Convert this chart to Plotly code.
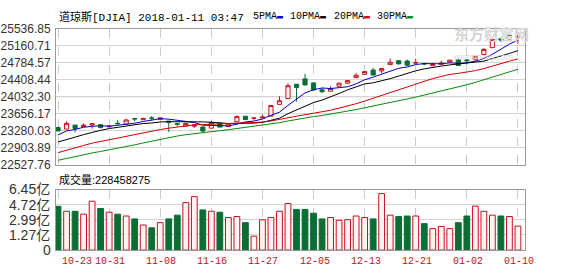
import plotly.graph_objects as go
import pandas as pd

# ---------------- data ----------------
DATES = ["10-23","10-24","10-25","10-26","10-27","10-30","10-31",
         "11-01","11-02","11-03","11-06","11-07","11-08","11-09","11-10",
         "11-13","11-14","11-15","11-16","11-17","11-20","11-21","11-22",
         "11-24","11-27","11-28","11-29","11-30",
         "12-01","12-04","12-05","12-06","12-07","12-08","12-11","12-12",
         "12-13","12-14","12-15","12-18","12-19","12-20","12-21","12-22",
         "12-26","12-27","12-28","12-29",
         "01-02","01-03","01-04","01-05","01-08","01-09","01-10"]

OPEN = [23348.7,23314.0,23403.0,23372.0,23405.0,23410.0,23365.0,
        23442.0,23424.0,23549.0,23522.0,23560.0,23530.0,23491.0,23434.0,
        23380.0,23378.0,23362.0,23334.0,23446.0,23369.0,23476.0,23598.0,
        23554.0,23560.0,23601.0,23860.0,23989.0,
        24305.0,24424.0,24335.0,24182.0,24150.0,24262.0,24330.0,24452.0,
        24525.0,24620.0,24600.0,24739.0,24827.0,24819.0,24773.0,24764.0,
        24715.0,24746.0,24797.0,24849.0,
        24850.0,24850.0,24964.0,25114.0,25309.0,25312.0,25336.0]
HIGH = [23368.0,23485.0,23404.0,23443.0,23449.0,23420.0,23406.0,
        23517.0,23539.0,23557.0,23567.0,23602.0,23570.0,23491.0,23457.0,
        23458.0,23421.0,23362.0,23494.0,23453.0,23445.0,23618.0,23602.0,
        23573.0,23638.0,23847.0,24041.0,24327.0,
        24305.0,24534.0,24349.0,24226.0,24262.0,24330.0,24387.0,24552.0,
        24585.0,24669.0,24651.0,24876.0,24837.0,24850.0,24872.0,24784.0,
        24778.0,24826.0,24839.0,24871.0,
        24864.0,24941.0,25105.0,25299.0,25311.0,25408.0,25370.0]
LOW = [23270.0,23314.0,23242.0,23372.0,23322.0,23329.0,23350.0,
       23412.0,23409.0,23486.0,23522.0,23500.0,23512.0,23250.0,23375.0,
       23380.0,23336.0,23242.0,23334.0,23354.0,23369.0,23476.0,23511.0,
       23519.0,23557.0,23601.0,23860.0,23989.0,
       23921.0,24280.0,24173.0,24114.0,24150.0,24262.0,24313.0,24452.0,
       24510.0,24508.0,24547.0,24739.0,24743.0,24710.0,24761.0,24728.0,
       24715.0,24741.0,24790.0,24719.0,
       24741.0,24825.0,24963.0,25112.0,25235.0,25268.0,25200.0]
CLOSE = [23273.96,23441.76,23329.46,23400.86,23434.19,23348.74,23377.24,
         23435.01,23516.26,23539.19,23548.42,23557.23,23563.36,23461.94,23422.21,
         23439.70,23409.47,23271.28,23458.36,23358.24,23430.33,23590.83,23526.18,
         23557.99,23580.78,23836.71,23940.68,24272.35,
         24231.59,24290.05,24180.64,24140.91,24211.48,24329.16,24386.03,24504.80,
         24585.43,24508.66,24651.74,24792.20,24754.75,24726.65,24782.29,24754.06,
         24746.21,24774.30,24837.51,24719.22,
         24824.01,24922.68,25075.13,25295.87,25283.00,25385.80,25369.13]
# closes of the 29 sessions before 10-23 (needed for the moving averages)
PRIOR_CLOSE = [22118.86,22158.18,22203.48,22268.34,22331.35,22370.80,
               22412.59,22359.23,22349.59,22296.09,22284.32,22340.71,22381.20,
               22405.09,22557.60,22641.67,22661.64,22775.39,22773.67,22761.07,
               22830.68,22872.89,22841.01,22871.72,22956.96,22997.44,23157.60,
               23163.04,23328.63]
VOLUME = [4.54,3.97,3.97,3.64,5.12,4.29,3.86,3.64,3.43,3.10,2.40,2.08,2.67,3.10,
          3.53,4.96,5.64,4.13,3.97,3.86,3.26,3.37,2.67,1.13,3.00,3.26,3.97,4.85,
          4.18,4.18,3.75,3.10,3.26,2.94,3.01,3.43,3.26,3.10,5.99,3.53,3.37,3.43,
          3.43,2.56,1.99,2.24,1.99,2.67,3.43,4.56,3.97,3.53,3.43,3.37,2.28]  # 亿

PRICE_TICKS = [22527.76,22903.89,23280.03,23656.17,24032.30,24408.44,24784.57,25160.71,25536.85]
VOL_TICK_TEXT = ["0","1.27亿","2.99亿","4.72亿","6.45亿"]
VOL_AXIS = (-0.4625, 6.45)
MA_PERIODS = [5, 10, 20, 30]
MA_COLORS = ["#0000c8", "#000000", "#d00000", "#0a8a0a"]
HEADER = "道琼斯[DJIA] 2018-01-11 03:47"
VOL_TITLE = "成交量:228458275"
WATERMARK = ("东方财富网", "eastmoney.com")

RED = "#c8101e"
GREEN = "#0b6e35"
PINK = "#fff3f3"
W, H = 578, 276

def py(px):
    return 1 - px / H

X0, X1 = 56 / W, 525 / W
XR = [-0.24, 54.83]

fig = go.Figure()

fig.add_trace(go.Candlestick(
    x=DATES, open=OPEN, high=HIGH, low=LOW, close=CLOSE,
    increasing=dict(line=dict(color=RED, width=1), fillcolor=PINK),
    decreasing=dict(line=dict(color=GREEN, width=1), fillcolor=GREEN),
    whiskerwidth=0, xaxis="x", yaxis="y", showlegend=False))

allc = pd.Series(PRIOR_CLOSE + CLOSE)
n0 = len(PRIOR_CLOSE)
for p, c in zip(MA_PERIODS, MA_COLORS):
    ma = allc.rolling(p).mean().iloc[n0:].tolist()
    fig.add_trace(go.Scatter(x=DATES, y=ma, mode="lines",
                             line=dict(color=c, width=1), xaxis="x", yaxis="y",
                             showlegend=False, hoverinfo="skip"))

up = [c >= o for o, c in zip(OPEN, CLOSE)]
fig.add_trace(go.Bar(
    x=DATES, y=[v - VOL_AXIS[0] for v in VOLUME], base=VOL_AXIS[0], width=0.68,
    marker=dict(color=[PINK if u else GREEN for u in up],
                line=dict(color=[RED if u else GREEN for u in up], width=1)),
    xaxis="x2", yaxis="y2", showlegend=False))

grid_x = DATES[::6]
common_x = dict(type="category", range=XR, domain=[X0, X1], showline=True, mirror=True,
                linecolor="#999", linewidth=1, tickvals=grid_x, showticklabels=False,
                showgrid=True, gridcolor="#cccccc", griddash="dash", gridwidth=1,
                ticks="", zeroline=False, fixedrange=True)
vstep = (VOL_AXIS[1] - VOL_AXIS[0]) / (len(VOL_TICK_TEXT) - 1)
vol_tickvals = [VOL_AXIS[0] + i * vstep for i in range(len(VOL_TICK_TEXT))]
VOL_FONT = dict(family="Liberation Sans, Noto Sans CJK SC", size=14, color="#333")
fig.update_layout(
    width=W, height=H, margin=dict(l=0, r=0, t=0, b=0),
    paper_bgcolor="white", plot_bgcolor="white",
    font=dict(family="Liberation Sans, Noto Sans CJK SC", size=12, color="#333"),
    xaxis=dict(anchor="y", rangeslider=dict(visible=False), **common_x),
    xaxis2=dict(anchor="y2", matches="x", **common_x),
    yaxis=dict(domain=[py(165.7), py(21.7)], range=[PRICE_TICKS[0], PRICE_TICKS[-1]],
               tickvals=PRICE_TICKS, ticktext=[f"{t:.2f}" for t in PRICE_TICKS],
               showline=True, mirror=True, linecolor="#999", gridcolor="#d4d4d4",
               ticks="", ticklabelstandoff=2, zeroline=False,
               tickfont=dict(family="Liberation Sans", size=12, color="#333")),
    yaxis2=dict(domain=[py(256), py(192)], range=list(VOL_AXIS),
                tickvals=vol_tickvals[1:], ticktext=VOL_TICK_TEXT[1:],
                showline=True, mirror=True, linecolor="#999", gridcolor="#d4d4d4",
                ticks="", ticklabelstandoff=2, zeroline=False, tickfont=VOL_FONT),
)

# middle price gridline is darker
mid = PRICE_TICKS[len(PRICE_TICKS) // 2]
fig.add_shape(type="line", xref="x domain", yref="y", x0=0, x1=1, y0=mid, y1=mid,
              line=dict(color="#999", width=1), layer="below")

ann = []
MONO = "Liberation Mono, Noto Sans CJK SC"
ann.append(dict(text=HEADER, x=57 / W, y=py(9), xref="paper", yref="paper",
                xanchor="left", yanchor="middle", showarrow=False,
                font=dict(family=MONO, size=11, color="#000")))
legend_x = [251, 288, 332, 375]
for p, c, lx in zip(MA_PERIODS, MA_COLORS, legend_x):
    ann.append(dict(text=f"{p}PMA<span style='color:{c}'>▬</span>", x=lx / W, y=py(9),
                    xref="paper", yref="paper", xanchor="left", yanchor="middle",
                    showarrow=False, font=dict(family=MONO, size=10, color="#000")))
ann.append(dict(text=VOL_TITLE, x=57 / W, y=py(181), xref="paper", yref="paper",
                xanchor="left", yanchor="middle", showarrow=False,
                font=dict(family="Liberation Sans, Noto Sans CJK SC", size=11, color="#000")))
# bottom volume label (axis minimum)
ann.append(dict(text=VOL_TICK_TEXT[0], x=0, y=vol_tickvals[0], xref="x2 domain", yref="y2",
                xanchor="right", yanchor="middle", xshift=-3, showarrow=False, font=VOL_FONT))
for i, d in enumerate(grid_x):
    ann.append(dict(text=d, x=d, y=py(268), xref="x2", yref="paper",
                    xanchor="left" if i == 0 else "center", xshift=2 if i == 0 else 1,
                    yanchor="middle", showarrow=False,
                    font=dict(family="Liberation Mono", size=10, color=RED)))
# watermark
ann.append(dict(text=f"<b>{WATERMARK[0]}</b><br><span style='font-size:8px'>{WATERMARK[1]}</span>",
                x=452 / W, y=py(36), xref="paper", yref="paper", align="left",
                xanchor="left", yanchor="middle", showarrow=False,
                font=dict(family="Noto Sans CJK SC", size=15, color="#d6d6d6")))
fig.update_layout(annotations=ann)

fig.write_html("out.html")
